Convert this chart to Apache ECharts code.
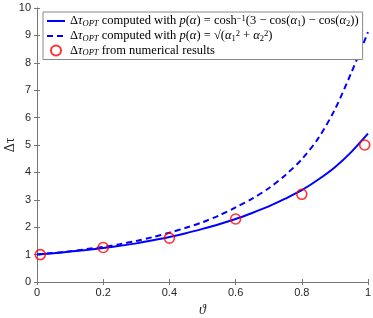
<!DOCTYPE html>
<html>
<head>
<meta charset="utf-8">
<script src="https://cdn.jsdelivr.net/npm/echarts@6/dist/echarts.min.js"></script>
<style>html,body{margin:0;padding:0;background:#fff}#c{width:373px;height:318px}</style>
</head>
<body>
<div id="c"></div>
<script>
// theta values for curves
var thetaLine = [0, 0.05, 0.1, 0.15, 0.2, 0.25, 0.3, 0.35, 0.4, 0.45, 0.5, 0.55, 0.6, 0.65, 0.7, 0.75, 0.8, 0.85, 0.9, 0.95, 1.0];
var solidVals = [1.00, 1.05, 1.11, 1.17, 1.24, 1.32, 1.41, 1.52, 1.64, 1.78, 1.94, 2.11, 2.30, 2.52, 2.76, 3.04, 3.35, 3.74, 4.19, 4.75, 5.42];
var dashedVals = [1.00, 1.06, 1.12, 1.20, 1.28, 1.38, 1.50, 1.64, 1.80, 1.98, 2.18, 2.43, 2.72, 3.04, 3.42, 3.90, 4.48, 5.25, 6.30, 7.65, 9.12];
// numerical results
var thetaPts = [0.01, 0.2, 0.4, 0.6, 0.8, 0.99];
var ptVals = [1.0, 1.26, 1.6, 2.3, 3.2, 5.0];
var xTicks = [0, 0.2, 0.4, 0.6, 0.8, 1];
var seriesNames = ['solid', 'dashed', 'points'];

function pairs(xs, ys) { return xs.map(function (x, i) { return [x, ys[i]]; }); }

var serif = 'Liberation Serif';
var legendText = {
  solid: '{r|Δ}{i|τ}{s|OPT}{r| computed with }{i|p}{r|(}{i|α}{r|) = cosh}{sp|−1}{r|(3 − cos(}{i|α}{sr|1}{r|) − cos(}{i|α}{sr|2}{r|))}',
  dashed: '{r|Δ}{i|τ}{s|OPT}{r| computed with }{i|p}{r|(}{i|α}{r|) = √(}{i|α}{sr|1}{sp|2}{r| + }{i|α}{sr|2}{sp|2}{r|)}',
  points: '{r|Δ}{i|τ}{s|OPT}{r| from numerical results}'
};

var axisColor = '#777';
var labelColor = '#262626';
var fs = 12.5;

var chart = echarts.init(document.getElementById('c'), null, { renderer: 'canvas' });
chart.setOption({
  animation: false,
  grid: { left: 37, right: 5, top: 8, bottom: 36, containLabel: false, outerBoundsMode: 'none' },
  legend: {
    data: [
      { name: 'solid', itemStyle: { color: 'rgba(0,0,0,0)', borderWidth: 0, opacity: 0 } },
      { name: 'dashed', itemStyle: { color: 'rgba(0,0,0,0)', borderWidth: 0, opacity: 0 } },
      { name: 'points' }
    ],
    orient: 'vertical',
    left: 43, top: 12,
    padding: [2, 4, 2, 3],
    itemGap: 1,
    itemWidth: 18, itemHeight: 10,
    itemTextGap: 3,
    backgroundColor: '#fff',
    borderColor: '#888', borderWidth: 1, borderRadius: 0,
    formatter: function (n) { return legendText[n]; },
    textStyle: {
      fontFamily: serif, fontSize: fs, color: '#000',
      rich: {
        r: { fontFamily: serif, fontSize: fs, lineHeight: 14, color: '#000' },
        i: { fontFamily: serif, fontSize: fs, lineHeight: 14, fontStyle: 'italic', color: '#000' },
        s: { fontFamily: serif, fontSize: 8.5, lineHeight: 6, fontStyle: 'italic', verticalAlign: 'bottom', color: '#000' },
        sr: { fontFamily: serif, fontSize: 8.5, lineHeight: 6, verticalAlign: 'bottom', color: '#000' },
        sp: { fontFamily: serif, fontSize: 8.5, lineHeight: 6, verticalAlign: 'top', color: '#000' }
      }
    }
  },
  xAxis: [{
    type: 'value', min: 0, max: 1, interval: 0.2,
    name: 'ϑ', nameLocation: 'middle', nameGap: 21, nameMoveOverlap: false,
    nameTextStyle: { fontFamily: serif, fontStyle: 'italic', fontSize: 14, color: labelColor },
    axisLine: { show: true, lineStyle: { color: axisColor, width: 1 } },
    axisTick: { show: true, inside: true, length: 3, lineStyle: { color: axisColor } },
    axisLabel: { color: labelColor, fontFamily: 'Liberation Sans', fontSize: 11, margin: 5,
      formatter: function (v) { return xTicks.indexOf(+v.toFixed(1)) >= 0 ? String(+v.toFixed(1)) : ''; } },
    splitLine: { show: false }
  }, {
    type: 'value', min: 0, max: 1, interval: 0.2, position: 'top',
    axisLine: { show: true, lineStyle: { color: axisColor, width: 1 } },
    axisTick: { show: true, inside: true, length: 3, lineStyle: { color: axisColor } },
    axisLabel: { show: false }, splitLine: { show: false }
  }],
  yAxis: [{
    type: 'value', min: 0, max: 10, interval: 1,
    name: 'Δτ', nameLocation: 'middle', nameGap: 20, nameRotate: 90, nameMoveOverlap: false,
    nameTextStyle: { fontFamily: serif, fontSize: 14, color: labelColor },
    axisLine: { show: true, lineStyle: { color: axisColor, width: 1 } },
    axisTick: { show: true, inside: true, length: 3, lineStyle: { color: axisColor } },
    axisLabel: { color: labelColor, fontFamily: 'Liberation Sans', fontSize: 11, margin: 6 },
    splitLine: { show: false }
  }, {
    type: 'value', min: 0, max: 10, interval: 1, position: 'right',
    axisLine: { show: true, lineStyle: { color: axisColor, width: 1 } },
    axisTick: { show: true, inside: true, length: 3, lineStyle: { color: axisColor } },
    axisLabel: { show: false }, splitLine: { show: false }
  }],
  series: [{
    name: 'solid', type: 'line', data: pairs(thetaLine, solidVals),
    smooth: 0.3, showSymbol: false,
    lineStyle: { color: '#0000ff', width: 2 }, itemStyle: { color: '#0000ff' }, z: 3
  }, {
    name: 'dashed', type: 'line', data: pairs(thetaLine, dashedVals),
    smooth: 0.3, showSymbol: false,
    lineStyle: { color: '#0000ff', width: 2, type: [6, 4] }, itemStyle: { color: '#0000ff' }, z: 3
  }, {
    name: 'points', type: 'scatter', data: pairs(thetaPts, ptVals),
    symbol: 'circle', symbolSize: 10,
    itemStyle: { color: 'rgba(255,255,255,0)', borderColor: '#ff0000', borderWidth: 1.6 }, z: 4
  }]
});
</script>
</body>
</html>
